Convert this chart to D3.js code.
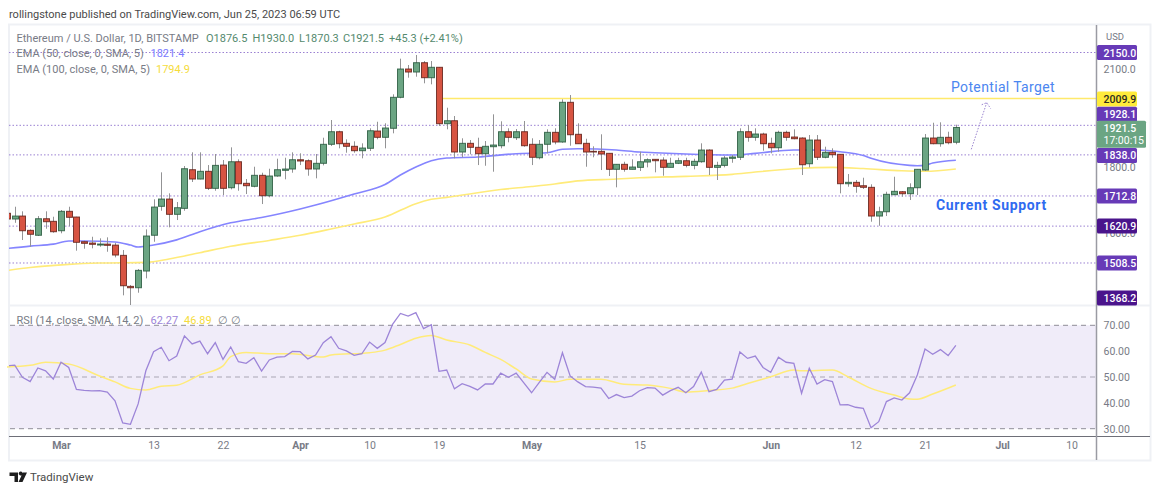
<!DOCTYPE html>
<html>
<head>
<meta charset="utf-8">
<script src="https://cdn.jsdelivr.net/npm/d3@7"></script>
<style>
  html, body { margin: 0; padding: 0; background: #fff; }
  text { font-family: Roboto, "Noto Sans", sans-serif; }
</style>
</head>
<body>
<div id="chart-area"></div>
<script>
// ETH/USD daily candles, 22 Feb - 25 Jun 2023, one value per day
var opens = [
  1660,1642.5,1651.6,1608,1593,1643.4,1635.5,
  1606.8,1666,1648.6,1573.3,1569.3,1563.2,1566,1563,1531.8,1437.3,1433.1,1484,1593,1681.2,1703.4,1656.8,1675,1792.8,1764.4,1787.9,1736,1807,1737.9,1817.1,1751.3,1742.2,1775.7,1713.5,1773.6,1790.9,1794.9,
  1823.2,1820.2,1794.9,1812.3,1870.2,1908.6,1873.2,1864.1,1850.7,1858,1910.7,1891.5,1919,2013.4,2099.7,2090.5,2118.9,2073.2,2104.9,1933,1942.1,1846.7,1873.2,1861,1841.5,1862.9,1865.9,1908.6,1890.3,1908.6,
  1870.2,1829.3,1870.2,1906.7,1877.2,1998.2,1900.7,1873.2,1848.8,1848.8,1842.7,1794,1809.2,1794,1800,1816.2,1824.4,1822.3,1800,1812.3,1820.2,1806,1817.1,1852.8,1800,1806,1827.5,1830.6,1908.6,1891.5,1901.6,
  1873.2,1859.8,1906.7,1892.4,1889.4,1811,1883.3,1830.6,1845.8,1839.7,1750.1,1754.3,1744,1739.1,1651.6,1664.7,1716.6,1725.7,1719.6,1737.9,1791.8,1889.4,1872,1891.5,1876.5
];
var highs = [
  1667,1680,1666,1611,1651.6,1666,1649.5,
  1670,1680,1649.5,1576.3,1588.5,1583.7,1586.7,1570,1548,1441.3,1490,1611,1702.5,1784.8,1720.8,1694.3,1804,1845.8,1845.8,1807,1840.6,1822.3,1861,1824.4,1764.4,1801.9,1783.6,1795.8,1826.3,1829.3,1845.8,
  1842.7,1824.4,1840.6,1890.3,1944.2,1911.6,1885.4,1879.3,1873.2,1919,1939,1934.2,2022.6,2131.1,2111.9,2142.4,2124,2124,2104.9,1981.7,1956.4,1888.5,1883.3,1890.3,1880.2,1961.6,1940.3,1919,1916.8,1941.2,
  1888.5,1883.3,1915.9,1919,2007.3,2020.4,1934.2,1887.2,1864.1,1900.7,1842.7,1809.2,1817.1,1824.4,1847.6,1827.5,1824.4,1830.6,1829.3,1829.3,1829.3,1826.3,1873.2,1855,1817.1,1834.5,1837.6,1919,1929,1919,1905.5,
  1890.3,1911.6,1911.6,1915.9,1891.5,1898.5,1898.5,1862.9,1858,1840.6,1779.6,1761.4,1768.4,1748.3,1680,1725.7,1771.4,1727.8,1751.3,1794,1901.6,1936,1937.2,1908.6,1930
];
var lows = [
  1633,1631,1578.5,1558,1590.7,1613,1600.7,
  1599,1621,1546,1552,1553.2,1558,1542.8,1525.7,1410,1368.2,1417.9,1461.7,1573.3,1667.8,1617.2,1639.4,1667.8,1755.3,1763.5,1730.9,1728.7,1715.6,1733,1728.7,1718.7,1739.1,1688.2,1708.6,1771.4,1763.5,1783.6,
  1807,1774.5,1766.5,1806,1865,1858,1844.6,1844.6,1827.5,1849.8,1885.4,1858,1903.7,2010.4,2073.2,2076.2,2056.1,2053,1926,1915.9,1827.5,1830.6,1839.7,1807,1804.9,1786.7,1858,1876.3,1883.3,1862.9,
  1807,1824.4,1842.7,1870.2,1875,1865.9,1872,1801.9,1830.6,1791.8,1773.6,1739.1,1786.7,1794,1788.8,1800,1784.8,1774.5,1800,1810,1800,1794,1814,1776.6,1761.4,1800,1814,1822.3,1878.1,1881.1,1850.7,
  1842.7,1847.6,1881.1,1885.4,1776.6,1800,1822.3,1827.5,1829.3,1720.8,1741,1722.6,1734,1634.3,1622,1651.6,1715.6,1710.5,1700.4,1715.6,1789.7,1870.2,1862.9,1870.2,1870.3
];
var closes = [
  1642.5,1651.6,1606.8,1596,1643.4,1634.3,1603.8,
  1666,1647.7,1571.5,1568.4,1565.4,1566.3,1562.3,1532.8,1439.2,1433.1,1486.1,1590.7,1679,1703.4,1656.8,1677,1795.8,1764.4,1787.9,1736,1806,1736,1817.1,1750.1,1744,1775.7,1713.5,1773.6,1792.8,1794.9,1823.2,
  1819.3,1794.9,1812.3,1870.2,1908.6,1872,1864.1,1850.7,1858.9,1911.6,1891.5,1919.9,2013.4,2099.7,2090.5,2118.9,2073.2,2104.9,1933,1942.1,1846.7,1873.2,1861,1841.5,1864.1,1868,1908.6,1891.5,1908.6,1865.9,
  1830.6,1870.2,1906.7,1877.2,1998.2,1899.4,1872,1846.7,1846.7,1840.6,1794,1809.2,1794,1801,1817.1,1823.2,1820.2,1800,1812.3,1820.2,1806,1818.4,1852.8,1800,1806,1828.4,1831.5,1908.6,1891.5,1901.6,1872,
  1859.8,1906.7,1891.5,1887.2,1808,1883.3,1830.6,1845.8,1838.5,1750.1,1754.3,1742.2,1739.1,1651.6,1664.7,1717.8,1726.9,1719.6,1737.9,1794,1889.4,1872,1891.5,1875,1921.5
];

// RSI, one value per day
var rsi = [
  54.3,54.6,49.9,48.2,53.5,52.4,49.2,
  55.7,53.7,45.2,44.8,44.6,44.7,44.2,40.8,32.2,31.7,39.6,52.4,59.8,61.5,56.3,58.1,65.9,62.8,63.9,59,63.3,56.8,61.6,55.9,55.3,57.5,52.3,56.6,57.7,57.9,59.9,
  59.8,57,58.5,63.3,65.6,61.1,60.1,58.4,59,63.5,61.1,63.3,70.5,74.6,73.6,74.9,68.7,70.2,52.2,52.7,45.4,47.4,46.4,45,47.3,47.3,51.5,49.9,51.5,47.7,
  43.9,47.9,51.8,49.1,59.4,50.4,48.1,46.3,46.1,45.7,41.7,43.2,42,42.6,44.7,45.9,45.7,43,44.7,46,43.9,46.3,51.9,44.3,45.2,48.8,49.2,59.7,57.2,58.1,53.7,
  51.8,57.7,55.7,55.3,43.7,53.4,47.3,49,48.2,39.2,39.3,38.3,37.9,30.4,32.7,40.5,41.9,41.1,43.9,50.8,60.8,58.8,60.6,58.3,62.27
];

var ema50Days = [0,3,6,8,10,14,16,17,19,22,25,29,33,38,40,45,49,51,53,55,57,61,66,70,72,74,79,82,84,88,94,97,102,105,108,111,112,117,118,119,120,123];
var ema50 = [1552.6,1560,1566,1575.5,1575.4,1572.4,1563.2,1557.1,1563.2,1579,1603.8,1631,1647,1673,1685,1718.7,1747.6,1776.6,1801,1820.2,1828.4,1831.5,1841.5,1844.6,1855.2,1856.8,1852.8,1846.7,1844.6,1840.6,1837.6,1842.7,1852.8,1852.8,1847.6,1836,1827.5,1806,1805,1806,1813,1821.4];
var ema100Days = [0,3,8,12,18,21,25,29,34,38,42,45,49,53,55,57,64,68,71,74,79,82,88,94,97,102,107,111,116,119,123];
var ema100 = [1485.5,1494.7,1504.4,1508.4,1510.5,1520.6,1539.8,1559.3,1577.3,1592.8,1612,1627.2,1648.6,1689.4,1702.5,1708.6,1732.4,1741.5,1749.2,1758.9,1764.4,1768.4,1772.6,1778.7,1785.7,1795.8,1800,1796.4,1789.4,1787.9,1794.9];
var rsiMaDays = [0,3,5,8,12,14,16,18,20,22,25,28,29,31,34,37,41,42,47,49,51,53,55,57,60,62,64,66,68,71,73,77,80,83,86,88,91,94,96,99,102,103,107,109,112,115,117,118,120,123];
var rsiMa = [53.9,54.5,55.7,55,50.4,48.1,45.6,45,46.4,46.8,50.8,54.3,57.9,59.5,59,59,57.7,58.5,59.4,60.4,62.6,65,66.1,64.3,62.4,59.5,56.8,53.1,49.2,48.1,49.1,49.1,47.2,46.9,45.6,44.2,44.8,45.7,47.5,50.1,52.7,52.4,52.7,50.1,45.6,43,41.5,41.4,43.4,46.89];

// horizontal levels and their price tags
var levels = [2150, 1928.1, 1838, 1712.8, 1620.9, 1508.5];
var tagPrices = [2150, 2009.9, 1928.1, 1838, 1712.8, 1620.9, 1508.5, 1368.2];
var tagLabels = ["2150.0", "2009.9", "1928.1", "1838.0", "1712.8", "1620.9", "1508.5", "1368.2"];
var tagNudge = [0, 0.5, -11, 0.5, 0, 0, 0, -11];
var tagFills = ["#673ab7", "#ffeb3b", "#673ab7", "#673ab7", "#673ab7", "#4a148c", "#673ab7", "#4a148c"];
var targetLevel = 2009.9;
var targetFrom = "2023-04-19";
var lastPrice = 1921.5;

var priceTicks = [2100, 1800, 1600];
var rsiTicks = [70, 60, 50, 40, 30];
var timeTickDates = ["2023-03-01","2023-03-13","2023-03-22","2023-04-01","2023-04-10","2023-04-19","2023-05-01","2023-05-15","2023-06-01","2023-06-12","2023-06-21","2023-07-01","2023-07-10"];
var timeTickLabels = ["Mar","13","22","Apr","10","19","May","15","Jun","12","21","Jul","10"];

var arrowDates = ["2023-06-27", "2023-06-29"];
var arrowPrices = [1855, 1997];

var days = d3.utcDay.range(new Date("2023-02-22"), new Date("2023-06-26"));

var left = 9, right = 1096.5, paneTop = 25, paneBottom = 305, rsiBottom = 436;

var x = d3.scaleUtc()
  .domain([new Date("2023-03-01"), new Date("2023-06-21")])
  .range([61, 925]);
var y = d3.scaleLinear().domain([2150, 1400]).range([52.5, 298.6]);
var yRsi = d3.scaleLinear().domain([70, 30]).range([325.3, 428.7]);

var grey = "#787b86", up = "#6ba583", down = "#d75442";

var svg = d3.select("#chart-area").append("svg")
  .attr("width", 1160)
  .attr("height", 493)
  .style("display", "block");

var defs = svg.append("defs");

defs.append("clipPath").attr("id", "main-clip")
  .append("rect")
  .attr("x", left).attr("y", paneTop)
  .attr("width", right - left).attr("height", paneBottom - paneTop);

defs.append("clipPath").attr("id", "rsi-clip")
  .append("rect")
  .attr("x", left).attr("y", paneBottom + 1)
  .attr("width", right - left).attr("height", rsiBottom - paneBottom - 1);

// frame
svg.append("rect")
  .attr("x", 9).attr("y", 24.5)
  .attr("width", 1141.5).attr("height", 436)
  .attr("fill", "#fff")
  .attr("stroke", "#eff1f5")
  .attr("stroke-width", 2);

svg.append("line")
  .attr("x1", left).attr("x2", 1150)
  .attr("y1", 305.5).attr("y2", 305.5)
  .attr("stroke", "#eff1f5")
  .attr("stroke-width", 2);

var main = svg.append("g").attr("clip-path", "url(#main-clip)");

main.selectAll(".level")
  .data(levels)
  .enter().append("line")
  .attr("class", "level")
  .attr("x1", left).attr("x2", right)
  .attr("y1", d => y(d)).attr("y2", d => y(d))
  .attr("stroke", "#9a80d2")
  .attr("stroke-width", 1)
  .attr("stroke-dasharray", "1.5 2");

main.append("line")
  .attr("x1", x(new Date(targetFrom)) + 2).attr("x2", right)
  .attr("y1", y(targetLevel)).attr("y2", y(targetLevel))
  .attr("stroke", "#ffe96b")
  .attr("stroke-width", 1.5);

var line = d3.line().curve(d3.curveMonotoneX);

function smooth(dayNums, values, yScale) {
  return line(dayNums.map((d, i) => [x(days[d]), yScale(values[i])]));
}

main.append("path")
  .attr("d", smooth(ema100Days, ema100, y))
  .attr("fill", "none")
  .attr("stroke", "#ffeb7a")
  .attr("stroke-width", 1.6);

main.append("path")
  .attr("d", smooth(ema50Days, ema50, y))
  .attr("fill", "none")
  .attr("stroke", "#8585ff")
  .attr("stroke-width", 1.6);

// candles
var candles = main.selectAll(".candle")
  .data(days)
  .enter().append("g")
  .attr("class", "candle");

candles.append("line")
  .attr("x1", d => Math.round(x(d)) + 0.5)
  .attr("x2", d => Math.round(x(d)) + 0.5)
  .attr("y1", (d, i) => y(highs[i]))
  .attr("y2", (d, i) => y(lows[i]))
  .attr("stroke", "#939395")
  .attr("stroke-width", 1);

candles.append("rect")
  .attr("x", d => Math.round(x(d)) - 2.5)
  .attr("width", 6)
  .attr("y", (d, i) => y(Math.max(opens[i], closes[i])))
  .attr("height", (d, i) => Math.abs(y(opens[i]) - y(closes[i])))
  .attr("fill", (d, i) => closes[i] >= opens[i] ? up : down)
  .attr("stroke", (d, i) => closes[i] >= opens[i] ? "#225437" : "#5b1a13")
  .attr("stroke-width", 1)
  .attr("stroke-opacity", 0.8);

// arrow drawing up to the target
var arrowTip = [x(new Date(arrowDates[1])), y(arrowPrices[1])];
svg.append("path")
  .attr("d", "M" + x(new Date(arrowDates[0])) + "," + y(arrowPrices[0]) + "L" + arrowTip
    + "M" + (arrowTip[0] - 5) + "," + (arrowTip[1] + 2) + "L" + arrowTip + "L" + (arrowTip[0] + 4) + "," + (arrowTip[1] + 6))
  .attr("fill", "none")
  .attr("stroke", "#9c86d1")
  .attr("stroke-width", 1)
  .attr("stroke-dasharray", "1.5 1.5");

svg.append("text")
  .attr("x", 951).attr("y", 92)
  .attr("font-size", 14)
  .attr("letter-spacing", 0.35)
  .attr("fill", "#4b86f0")
  .text("Potential Target");

svg.append("text")
  .attr("x", 936).attr("y", 210)
  .attr("font-size", 14)
  .attr("font-weight", 700)
  .attr("letter-spacing", 0.65)
  .attr("fill", "#2f6bf0")
  .text("Current Support");

// RSI pane
svg.append("rect")
  .attr("x", left + 1).attr("width", right - left - 1)
  .attr("y", yRsi(70)).attr("height", yRsi(30) - yRsi(70))
  .attr("fill", "#f0ecf9");

svg.selectAll(".rsi-level")
  .data([70, 50, 30])
  .enter().append("line")
  .attr("class", "rsi-level")
  .attr("x1", left + 1).attr("x2", right)
  .attr("y1", d => yRsi(d)).attr("y2", d => yRsi(d))
  .attr("stroke", d => d === 50 ? "#a9a6b4" : "#8f8e98")
  .attr("stroke-width", 1)
  .attr("stroke-dasharray", "5 4");

svg.append("path")
  .attr("d", smooth(rsiMaDays, rsiMa, yRsi))
  .attr("fill", "none")
  .attr("stroke", "#ffeb7a")
  .attr("stroke-width", 1.5);

svg.append("path")
  .attr("d", d3.line()(rsi.map((d, i) => [x(days[i]), yRsi(d)])))
  .attr("clip-path", "url(#rsi-clip)")
  .attr("fill", "none")
  .attr("stroke", "#9d85d8")
  .attr("stroke-width", 1.3);

// axes
svg.append("line")
  .attr("x1", left).attr("x2", 1150)
  .attr("y1", rsiBottom + 0.5).attr("y2", rsiBottom + 0.5)
  .attr("stroke", "#6e6f78")
  .attr("stroke-width", 1);

svg.append("line")
  .attr("x1", right).attr("x2", right)
  .attr("y1", 25).attr("y2", 460)
  .attr("stroke", "#9a9ba3")
  .attr("stroke-width", 1.5);

var timeAxis = d3.axisBottom(x)
  .tickValues(timeTickDates.map(d => new Date(d)))
  .tickFormat((d, i) => timeTickLabels[i])
  .tickSize(0)
  .tickPadding(6);

var timeG = svg.append("g")
  .attr("transform", "translate(0," + rsiBottom + ")")
  .call(timeAxis);
timeG.select(".domain").remove();
timeG.selectAll("text")
  .attr("font-size", 10.5)
  .attr("fill", grey)
  .attr("font-weight", (d, i) => isNaN(+timeTickLabels[i]) ? 700 : 400);

var priceAxis = d3.axisRight(y)
  .tickValues(priceTicks)
  .tickFormat(d3.format(".1f"))
  .tickSize(0)
  .tickPadding(7);

var priceG = svg.append("g")
  .attr("transform", "translate(" + right + ",0)")
  .call(priceAxis);
priceG.select(".domain").remove();
priceG.selectAll("text").attr("font-size", 10.5).attr("fill", grey);

var rsiAxis = d3.axisRight(yRsi)
  .tickValues(rsiTicks)
  .tickFormat(d3.format(".2f"))
  .tickSize(0)
  .tickPadding(7);

var rsiG = svg.append("g")
  .attr("transform", "translate(" + right + ",0)")
  .call(rsiAxis);
rsiG.select(".domain").remove();
rsiG.selectAll("text").attr("font-size", 10.5).attr("fill", grey);

svg.append("text")
  .attr("x", 1106).attr("y", 40)
  .attr("font-size", 9.5)
  .attr("fill", grey)
  .text("USD");

// price tags
var tags = svg.selectAll(".tag")
  .data(tagPrices)
  .enter().append("g")
  .attr("class", "tag")
  .attr("transform", (d, i) => "translate(1097," + (y(d) + tagNudge[i]) + ")");

tags.append("rect")
  .attr("y", -7.5)
  .attr("width", 40).attr("height", 15)
  .attr("rx", 1.5)
  .attr("fill", (d, i) => tagFills[i]);

tags.append("text")
  .attr("x", 6.5).attr("y", 4)
  .attr("font-size", 10.5)
  .attr("font-weight", 500)
  .attr("fill", (d, i) => tagFills[i] === "#ffeb3b" ? "#2a2a20" : "#fff")
  .text((d, i) => tagLabels[i]);

var lastTag = svg.append("g")
  .attr("transform", "translate(1097," + (y(lastPrice) + 6.7) + ")");

lastTag.append("rect")
  .attr("y", -13.5)
  .attr("width", 49).attr("height", 27)
  .attr("rx", 1.5)
  .attr("fill", up);

lastTag.append("text")
  .attr("x", 6.5).attr("y", -2.5)
  .attr("font-size", 10.5)
  .attr("font-weight", 500)
  .attr("fill", "#fff")
  .text(d3.format(".1f")(lastPrice));

lastTag.append("text")
  .attr("x", 6.5).attr("y", 10)
  .attr("font-size", 10.5)
  .attr("fill", "#fff")
  .text("17:00:15");

// legends
function label(px, py, str, color, weight) {
  return svg.append("text")
    .attr("x", px).attr("y", py)
    .attr("font-size", 11)
    .attr("font-weight", weight || 400)
    .attr("fill", color)
    .text(str);
}

label(9, 17.5, "rollingstone published on TradingView.com, Jun 25, 2023 06:59 UTC", "#4a4a4a");
label(16.5, 42, "Ethereum / U.S. Dollar, 1D, BITSTAMP", grey);
label(206, 42, "O1876.5", "#558a6e");
label(252.5, 42, "H1930.0", "#558a6e");
label(299, 42, "L1870.3", "#558a6e");
label(343, 42, "C1921.5", "#558a6e");
label(389, 42, "+45.3 (+2.41%)", "#558a6e");
label(16.5, 57, "EMA (50, close, 0, SMA, 5)", grey);
label(150.5, 57, "1821.4", "#7a7aff");
label(16.5, 72.5, "EMA (100, close, 0, SMA, 5)", grey);
label(156, 72.5, "1794.9", "#f5dc3c");
label(16.5, 324, "RSI (14, close, SMA, 14, 2)", grey);
label(150.5, 324, "62.27", "#9d85d8");
label(184, 324, "46.89", "#f5dc3c");
label(218, 324, "\u2205", grey);
label(231, 324, "\u2205", grey);

// TradingView mark
svg.append("path")
  .attr("d", "M9.5,472.5H18V482H14.5V476H9.5Z M19,472.5 A2,2 0 1 1 22.5,474.5 A2,2 0 1 1 19,472.5Z M23,472.5H27L22.5,482H18.5Z")
  .attr("fill", "#1e1e1e");

svg.append("text")
  .attr("x", 30).attr("y", 481)
  .attr("font-size", 11.5)
  .attr("fill", "#4a4a4a")
  .text("TradingView");
</script>
</body>
</html>
